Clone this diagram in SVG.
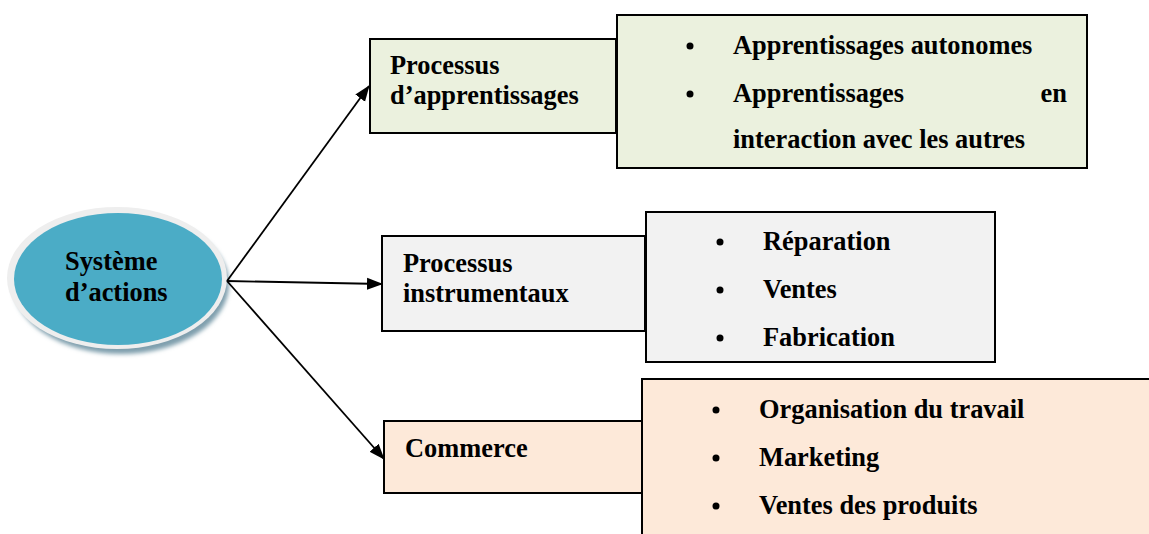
<svg xmlns="http://www.w3.org/2000/svg" width="1149" height="534" viewBox="0 0 1149 534">
<defs>
<style>
text{font-family:"Liberation Serif","Times New Roman",serif;font-weight:bold;font-size:26.4px;fill:#000}
.box{stroke:#000;stroke-width:2}
.con{stroke:#000;stroke-width:1.8;fill:none;marker-end:url(#ah)}
</style>
<marker id="ah" markerWidth="16" markerHeight="14" refX="15" refY="6" orient="auto" markerUnits="userSpaceOnUse" viewBox="0 0 16 12">
<path d="M0,0 L16,6 L0,12 z" fill="#000"/>
</marker>
<filter id="sh" x="-20%" y="-20%" width="140%" height="140%">
<feGaussianBlur stdDeviation="2"/>
</filter>
</defs>
<g id="center">
<ellipse cx="121" cy="284" rx="108" ry="70" fill="#7f9fad" filter="url(#sh)"/>
<ellipse cx="117" cy="278" rx="110" ry="71" fill="#eeeeee"/>
<ellipse cx="118" cy="279" rx="104" ry="66" fill="#4bacc6"/>
<text x="65" y="270">Système</text>
<text x="65" y="301">d’actions</text>
</g>
<g id="connectors">
<line class="con" x1="227" y1="281" x2="369" y2="86"/>
<line class="con" x1="227" y1="281" x2="382" y2="284"/>
<line class="con" x1="227" y1="281" x2="384" y2="459"/>
</g>
<g id="n1">
<rect class="box" x="370" y="39" width="246" height="94" fill="#ebf1de"/>
<text x="390" y="74">Processus</text>
<text x="390" y="104">d’apprentissages</text>
</g>
<g id="n1d">
<rect class="box" x="617" y="15" width="470" height="153" fill="#ebf1de"/>
<circle cx="690" cy="46" r="3.5"/>
<text x="733" y="54">Apprentissages autonomes</text>
<circle cx="690" cy="94" r="3.5"/>
<text x="733" y="102">Apprentissages</text>
<text x="1067" y="102" text-anchor="end">en</text>
<text x="733" y="148">interaction avec les autres</text>
</g>
<g id="n2">
<rect class="box" x="382" y="236" width="263" height="95" fill="#f2f2f2"/>
<text x="403" y="272">Processus</text>
<text x="403" y="302">instrumentaux</text>
</g>
<g id="n2d">
<rect class="box" x="646" y="212" width="349" height="150" fill="#f2f2f2"/>
<circle cx="720" cy="242" r="3.5"/>
<text x="763" y="250">Réparation</text>
<circle cx="720" cy="290" r="3.5"/>
<text x="763" y="298">Ventes</text>
<circle cx="720" cy="338" r="3.5"/>
<text x="763" y="346">Fabrication</text>
</g>
<g id="n3">
<rect class="box" x="384" y="421" width="258" height="72" fill="#fde9d9"/>
<text x="405" y="457">Commerce</text>
</g>
<g id="n3d">
<rect class="box" x="642" y="379" width="520" height="170" fill="#fde9d9"/>
<circle cx="716" cy="410" r="3.5"/>
<text x="759" y="418">Organisation du travail</text>
<circle cx="716" cy="458" r="3.5"/>
<text x="759" y="466">Marketing</text>
<circle cx="716" cy="506" r="3.5"/>
<text x="759" y="514">Ventes des produits</text>
</g>
</svg>
